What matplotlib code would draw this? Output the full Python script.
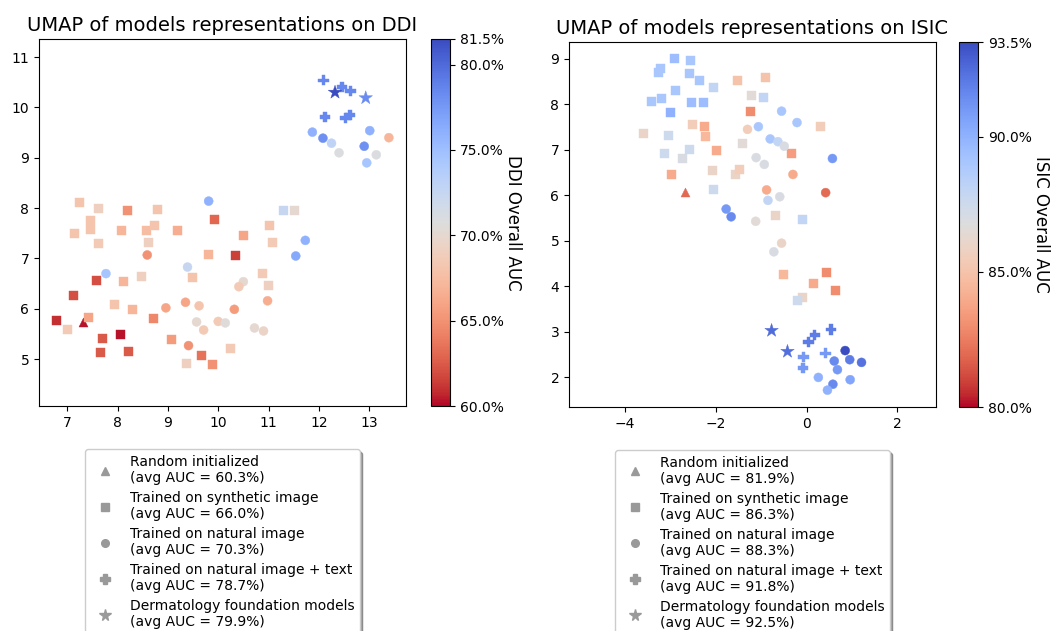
import matplotlib
matplotlib.use('Agg')
import matplotlib.pyplot as plt
import numpy as np
from matplotlib.colors import Normalize
from matplotlib.cm import ScalarMappable
from matplotlib.lines import Line2D

plt.rcParams['font.family'] = 'DejaVu Sans'

# --- Data ------------------------------------------------------------
kinds = ['random', 'synthetic', 'natural', 'text', 'derm']
markers = {'random': '^', 'synthetic': 's', 'natural': 'o', 'text': 'P', 'derm': '*'}
kind_names = ['Random initialized', 'Trained on synthetic image',
              'Trained on natural image', 'Trained on natural image + text',
              'Dermatology foundation models']

# DDI panel
ddi_x = {
    'random':    [7.32],
    'synthetic': [7.24, 7.63, 8.20, 8.80, 9.92, 7.47, 7.46, 7.14, 7.63, 8.08, 8.57, 8.73,
                  8.61, 9.20, 9.80, 10.35, 10.51, 11.01, 11.07, 11.29, 11.52, 7.58, 8.12,
                  8.47, 9.49, 10.88, 10.99, 7.13, 7.93, 8.30, 6.78, 7.42, 7.01, 8.71,
                  7.71, 8.05, 7.66, 8.22, 9.08, 9.66, 9.89, 9.36, 10.25],
    'natural':   [11.87, 12.08, 12.25, 12.40, 12.90, 13.01, 13.39, 13.14, 12.95, 9.81,
                  8.59, 11.73, 11.54, 7.77, 9.39, 10.50, 10.41, 10.98, 8.96, 9.35, 9.62,
                  10.32, 9.57, 9.71, 10.00, 10.14, 10.72, 10.90, 9.41],
    'text':      [12.09, 12.46, 12.63, 12.12, 12.53, 12.62],
    'derm':      [12.32, 12.93],
}
ddi_y = {
    'random':    [5.74],
    'synthetic': [8.11, 8.00, 7.95, 7.98, 7.77, 7.76, 7.58, 7.50, 7.29, 7.55, 7.55, 7.66,
                  7.31, 7.55, 7.07, 7.06, 7.45, 7.66, 7.32, 7.96, 7.95, 6.57, 6.55,
                  6.64, 6.62, 6.70, 6.47, 6.26, 6.09, 5.98, 5.76, 5.82, 5.59, 5.80,
                  5.41, 5.49, 5.14, 5.16, 5.39, 5.08, 4.90, 4.92, 5.22],
    'natural':   [9.51, 9.39, 9.29, 9.10, 9.23, 9.54, 9.40, 9.06, 8.90, 8.14,
                  7.07, 7.36, 7.05, 6.70, 6.83, 6.54, 6.44, 6.16, 6.02, 6.13, 6.06,
                  5.99, 5.74, 5.58, 5.75, 5.72, 5.62, 5.56, 5.27],
    'text':      [10.54, 10.41, 10.33, 9.81, 9.79, 9.85],
    'derm':      [10.30, 10.19],
}
ddi_auc = {
    'random':    [60.3],
    'synthetic': [68.0, 69.0, 65.0, 68.0, 63.0, 68.0, 68.0, 68.0, 68.5, 67.0, 67.5, 68.0,
                  69.0, 66.5, 67.0, 61.5, 66.0, 68.0, 68.5, 72.5, 70.0, 62.0, 67.0,
                  69.0, 68.0, 68.5, 69.0, 62.0, 68.0, 67.0, 61.0, 66.0, 68.5, 64.5,
                  62.5, 60.3, 62.5, 62.5, 65.5, 63.5, 65.0, 69.0, 68.5],
    'natural':   [76.0, 78.0, 73.0, 71.0, 78.0, 76.0, 67.0, 71.0, 74.5, 76.0,
                  65.0, 76.0, 76.5, 74.5, 72.5, 70.0, 68.5, 66.5, 66.0, 66.0, 68.0,
                  65.5, 70.0, 68.5, 68.5, 70.5, 70.0, 69.5, 65.0],
    'text':      [78.5, 78.5, 78.5, 78.5, 78.5, 78.5],
    'derm':      [81.5, 78.3],
}
ddi_avg = [60.3, 66.0, 70.3, 78.7, 79.9]

# ISIC panel
isic_x = {
    'random':    [-2.68],
    'synthetic': [-2.91, -2.56, -3.22, -3.26, -2.58, -2.36, -2.05, -2.89, -3.42, -3.19,
                  -2.54, -2.27, -2.99, -1.51, -0.91, -1.21, -0.95, -1.24, -3.59, -3.05,
                  -2.50, -2.24, -2.22, 0.31, -1.40, -3.13, -2.74, -2.57, -1.99, -0.33,
                  -2.97, -2.07, -1.56, -1.47, -2.04, -0.69, -0.10, -0.51, 0.44, 0.15,
                  0.63, -0.10, -0.21],
    'natural':   [-0.55, -0.21, -1.30, -1.06, -0.80, -0.63, -0.49, 0.57, -1.11, -0.93,
                  -0.30, -0.88, 0.42, -0.85, -0.59, -1.77, -1.66, -1.12, -0.55, -0.72,
                  0.85, 0.95, 1.21, 0.61, 0.68, 0.26, 0.96, 0.58, 0.46],
    'text':      [0.54, 0.18, 0.04, 0.42, -0.07, -0.08],
    'derm':      [-0.77, -0.42],
}
isic_y = {
    'random':    [6.07],
    'synthetic': [9.01, 8.96, 8.78, 8.69, 8.68, 8.52, 8.38, 8.30, 8.06, 8.13,
                  8.03, 8.03, 7.81, 8.52, 8.59, 8.19, 8.16, 7.84, 7.35, 7.31,
                  7.56, 7.51, 7.29, 7.52, 7.14, 6.91, 6.82, 7.00, 6.98, 6.92,
                  6.45, 6.54, 6.46, 6.57, 6.13, 5.56, 5.46, 4.27, 4.30, 4.07,
                  3.91, 3.75, 3.70],
    'natural':   [7.85, 7.60, 7.45, 7.51, 7.24, 7.18, 7.08, 6.81, 6.83, 6.68,
                  6.46, 6.12, 6.06, 5.89, 5.97, 5.70, 5.53, 5.43, 4.95, 4.76,
                  2.59, 2.39, 2.33, 2.36, 2.17, 2.00, 1.95, 1.85, 1.72],
    'text':      [3.05, 2.93, 2.78, 2.53, 2.45, 2.21],
    'derm':      [3.03, 2.57],
}
isic_auc = {
    'random':    [81.9],
    'synthetic': [89.5, 89.0, 89.0, 89.0, 89.0, 89.0, 88.0, 89.0, 89.0, 89.0,
                  89.5, 89.5, 90.0, 85.0, 85.0, 86.5, 88.0, 83.0, 86.0, 87.5,
                  85.5, 84.0, 84.5, 85.5, 86.5, 87.5, 87.0, 87.5, 84.0, 83.5,
                  84.0, 86.0, 86.0, 85.5, 87.5, 86.0, 88.0, 84.5, 83.0, 84.0,
                  83.0, 86.0, 87.5],
    'natural':   [89.0, 89.0, 85.5, 89.0, 89.0, 88.0, 87.0, 91.0, 87.0, 87.0,
                  84.0, 84.0, 82.0, 88.0, 87.0, 91.0, 91.5, 86.5, 86.0, 87.0,
                  93.5, 92.0, 92.3, 91.5, 91.0, 90.0, 90.5, 91.5, 90.0],
    'text':      [92.0, 92.0, 92.0, 91.0, 91.0, 91.0],
    'derm':      [92.5, 92.4],
}
isic_avg = [81.9, 86.3, 88.3, 91.8, 92.5]

W, H = 1052, 631
fig = plt.figure(figsize=(W / 100, H / 100), dpi=100)
sizes = {'random': 42, 'synthetic': 42, 'natural': 42, 'text': 55, 'derm': 105}
leg_sizes = {'random': 5.5, 'synthetic': 5.5, 'natural': 5.5, 'text': 6.5, 'derm': 8.5}


def panel(ax_px, cb_px, xs, ys, aucs, avgs, vmin, vmax, ticks, xlim, ylim, name):
    ax = fig.add_axes([ax_px[0] / W, 1 - ax_px[3] / H,
                       (ax_px[2] - ax_px[0]) / W, (ax_px[3] - ax_px[1]) / H])
    cax = fig.add_axes([cb_px[0] / W, 1 - cb_px[3] / H,
                        (cb_px[2] - cb_px[0]) / W, (cb_px[3] - cb_px[1]) / H])
    norm = Normalize(vmin=vmin, vmax=vmax)
    cmap = plt.get_cmap('coolwarm_r')
    for k in kinds:
        ax.scatter(xs[k], ys[k], c=aucs[k], cmap=cmap, norm=norm,
                   marker=markers[k], s=sizes[k], linewidths=0.3, edgecolors='face')
    ax.set_xlim(*xlim)
    ax.set_ylim(*ylim)
    ax.set_title(f'UMAP of models representations on {name}', fontsize=14)

    cb = fig.colorbar(ScalarMappable(norm=norm, cmap=cmap), cax=cax)
    cb.set_ticks(ticks)
    cb.set_ticklabels([f'{t:.1f}%' for t in ticks])
    cb.set_label(f'{name} Overall AUC', rotation=270, labelpad=13, fontsize=12)

    handles = [Line2D([], [], marker=markers[k], color='#999999', linestyle='none',
                      markersize=leg_sizes[k]) for k in kinds]
    labels = [f'{n}\n(avg AUC = {a:.1f}%)' for n, a in zip(kind_names, avgs)]
    ax.legend(handles, labels, loc='upper center', bbox_to_anchor=(0.5, -0.118),
              fontsize=10, shadow=True, frameon=True, labelspacing=0.42,
              borderaxespad=0.0)
    return ax


panel((39, 39, 406, 406), (431, 39, 450, 406), ddi_x, ddi_y, ddi_auc, ddi_avg,
      60.0, 81.5, [60.0, 65.0, 70.0, 75.0, 80.0, 81.5],
      (6.44, 13.73), (4.07, 11.36), 'DDI')
panel((569, 42, 936, 407), (959, 42, 978, 407), isic_x, isic_y, isic_auc, isic_avg,
      80.0, 93.5, [80.0, 85.0, 90.0, 93.5],
      (-5.23, 2.85), (1.35, 9.37), 'ISIC')

fig.savefig('out.png', dpi=100)
